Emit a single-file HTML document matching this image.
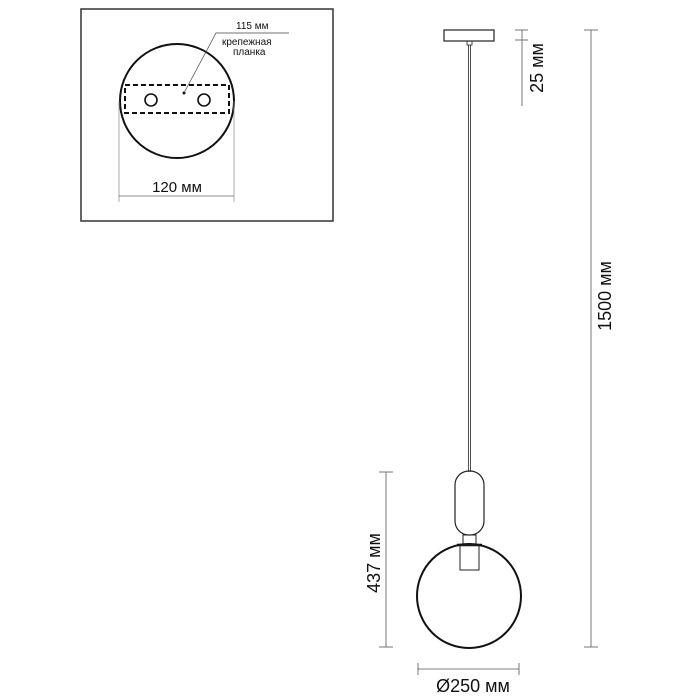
<!DOCTYPE html>
<html><head><style>body{margin:0;background:#fff}svg{display:block}text{font-family:"Liberation Sans",sans-serif;fill:#111}</style></head>
<body>
<svg width="700" height="700" viewBox="0 0 700 700">
<rect x="81" y="9" width="252" height="212" fill="none" stroke="#333" stroke-width="1.5"/>
<circle cx="177" cy="101" r="57" fill="none" stroke="#111" stroke-width="2"/>
<rect x="125" y="85" width="104" height="28" fill="none" stroke="#111" stroke-width="2" stroke-dasharray="5,3"/>
<circle cx="151" cy="100" r="6" fill="none" stroke="#111" stroke-width="1.6"/>
<circle cx="204" cy="100" r="6" fill="none" stroke="#111" stroke-width="1.6"/>
<circle cx="184" cy="93" r="1.5" fill="#111"/>
<polyline points="184,93 216,33 289,33" fill="none" stroke="#444" stroke-width="0.7"/>
<text x="236" y="29" font-size="10">115 мм</text>
<text x="222" y="45" font-size="10">крепежная</text>
<text x="233" y="55" font-size="10">планка</text>
<line x1="119" y1="101" x2="119" y2="202" stroke="#888" stroke-width="0.7"/>
<line x1="234" y1="101" x2="234" y2="202" stroke="#888" stroke-width="0.7"/>
<line x1="119" y1="196" x2="234" y2="196" stroke="#666" stroke-width="0.8"/>
<text x="177" y="192" font-size="15" text-anchor="middle">120 мм</text>

<rect x="444" y="30" width="50" height="11" fill="none" stroke="#222" stroke-width="1.2"/>
<rect x="467" y="41" width="5" height="4" fill="none" stroke="#222" stroke-width="0.8"/>
<line x1="468.5" y1="45" x2="468.5" y2="472" stroke="#222" stroke-width="0.8"/>
<line x1="470.5" y1="45" x2="470.5" y2="472" stroke="#222" stroke-width="0.8"/>
<rect x="455" y="471" width="29" height="64" rx="14" fill="none" stroke="#222" stroke-width="1.2"/>
<rect x="463" y="535" width="13" height="9" fill="none" stroke="#222" stroke-width="1"/>
<circle cx="469" cy="596" r="52" fill="none" stroke="#111" stroke-width="2"/>
<line x1="457" y1="545" x2="482" y2="545" stroke="#111" stroke-width="2.5"/>
<rect x="460" y="545" width="19" height="25" fill="none" stroke="#222" stroke-width="1"/>

<line x1="522" y1="30" x2="522" y2="106" stroke="#555" stroke-width="0.8"/>
<line x1="515" y1="30" x2="528" y2="30" stroke="#555" stroke-width="0.8"/>
<line x1="515" y1="40" x2="528" y2="40" stroke="#555" stroke-width="0.8"/>
<text transform="translate(543,68) rotate(-90)" font-size="18" text-anchor="middle">25 мм</text>
<line x1="591" y1="30" x2="591" y2="647" stroke="#555" stroke-width="0.8"/>
<line x1="584" y1="30" x2="598" y2="30" stroke="#555" stroke-width="0.8"/>
<line x1="584" y1="647" x2="598" y2="647" stroke="#555" stroke-width="0.8"/>
<text transform="translate(611,296) rotate(-90)" font-size="18" text-anchor="middle">1500 мм</text>
<line x1="386" y1="472" x2="386" y2="647" stroke="#555" stroke-width="0.8"/>
<line x1="379" y1="472" x2="393" y2="472" stroke="#555" stroke-width="0.8"/>
<line x1="379" y1="647" x2="393" y2="647" stroke="#555" stroke-width="0.8"/>
<text transform="translate(380,563) rotate(-90)" font-size="18" text-anchor="middle">437 мм</text>
<line x1="418" y1="669" x2="519" y2="669" stroke="#555" stroke-width="0.8"/>
<line x1="418" y1="663" x2="418" y2="675" stroke="#555" stroke-width="0.8"/>
<line x1="519" y1="663" x2="519" y2="675" stroke="#555" stroke-width="0.8"/>
<text x="473" y="692" font-size="18" text-anchor="middle">Ø250 мм</text>
</svg>
</body></html>
